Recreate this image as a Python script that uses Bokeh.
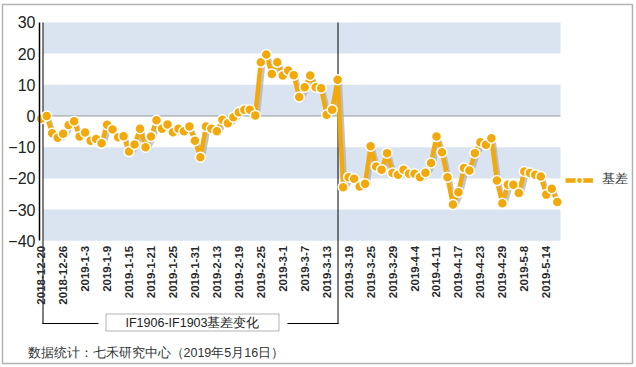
import math
from bokeh.plotting import figure
from bokeh.models import (ColumnDataSource, Range1d, FixedTicker, BoxAnnotation,
                          Label, Legend, LegendItem)
from bokeh.transform import dodge
from bokeh.embed import file_html
from bokeh.resources import INLINE

# ---------------- data ----------------
dates = ["2018-12-20", "2018-12-21", "2018-12-24", "2018-12-25", "2018-12-26", "2018-12-27", "2018-12-28",
         "2019-1-2", "2019-1-3", "2019-1-4", "2019-1-7", "2019-1-8", "2019-1-9", "2019-1-10", "2019-1-11",
         "2019-1-14", "2019-1-15", "2019-1-16", "2019-1-17", "2019-1-18", "2019-1-21", "2019-1-22",
         "2019-1-23", "2019-1-24", "2019-1-25", "2019-1-28", "2019-1-29", "2019-1-30", "2019-1-31",
         "2019-2-1", "2019-2-11", "2019-2-12", "2019-2-13", "2019-2-14", "2019-2-15", "2019-2-18",
         "2019-2-19", "2019-2-20", "2019-2-21", "2019-2-22", "2019-2-25", "2019-2-26", "2019-2-27",
         "2019-2-28",
         "2019-3-1", "2019-3-4", "2019-3-5", "2019-3-6", "2019-3-7", "2019-3-8", "2019-3-11", "2019-3-12",
         "2019-3-13", "2019-3-14", "2019-3-15", "2019-3-18", "2019-3-19", "2019-3-20", "2019-3-21",
         "2019-3-22", "2019-3-25", "2019-3-26", "2019-3-27", "2019-3-28", "2019-3-29",
         "2019-4-1", "2019-4-2", "2019-4-3", "2019-4-4", "2019-4-8", "2019-4-9", "2019-4-10", "2019-4-11",
         "2019-4-12", "2019-4-15", "2019-4-16", "2019-4-17", "2019-4-18", "2019-4-19", "2019-4-22",
         "2019-4-23", "2019-4-24", "2019-4-25", "2019-4-26", "2019-4-29", "2019-4-30",
         "2019-5-6", "2019-5-7", "2019-5-8", "2019-5-9", "2019-5-10", "2019-5-13", "2019-5-14",
         "2019-5-15", "2019-5-16"]

basis = [-0.9, 0.0, -5.5, -7.0, -5.7, -2.9, -1.7, -6.6, -5.3, -7.9,
         -7.4, -8.7, -2.8, -4.3, -6.8, -6.5, -11.4, -9.1, -4.1, -10.0,
         -6.6, -1.4, -4.1, -2.7, -5.2, -4.1, -4.9, -3.4, -7.9, -13.2,
         -3.4, -4.1, -4.9, -1.2, -2.3, -0.4, 1.2, 2.0, 2.0, 0.2,
         17.2, 19.7, 13.5, 17.2, 13.0, 14.6, 13.1, 6.1, 9.2, 13.0,
         9.2, 8.9, 0.4, 2.0, 11.6, -22.8, -19.6, -20.1, -22.6, -21.7,
         -9.7, -16.2, -17.2, -11.9, -18.3, -18.8, -17.2, -18.5, -18.5, -19.6,
         -18.2, -15.1, -6.6, -11.6, -19.6, -28.4, -24.4, -16.7, -17.5, -11.9,
         -8.4, -9.2, -7.1, -20.7, -28.0, -22.0, -22.0, -24.7, -17.8, -18.3,
         -18.8, -19.4, -25.2, -23.3, -27.6]

y_ticks = [-40, -30, -20, -10, 0, 10, 20, 30]
band_bottoms = [20, 0, -20, -40]
label_step = 4
series_name = "基差"
bracket_label = "IF1906-IF1903基差变化"
source_note = "数据统计：七禾研究中心（2019年5月16日）"

# ---------------- layout / style ----------------
W, H = 636, 367
PX_PER_DAY = 5.49      # horizontal pixels per trading day
X0_PX = 40.7           # pixel position of the first trading day
PX_PER_UNIT = 3.12     # vertical pixels per basis point
Y0_PX = 115.5          # pixel position of basis = 0
ORANGE = "#f2a90c"
BAND = "#d9e4f0"
FONT = "Liberation Sans"

x_lo = -X0_PX / PX_PER_DAY
x_hi = (W - X0_PX) / PX_PER_DAY
y_hi = Y0_PX / PX_PER_UNIT
y_lo = (Y0_PX - H) / PX_PER_UNIT
axis_x = (39 - X0_PX) / PX_PER_DAY
band_l = (43 - X0_PX) / PX_PER_DAY
band_r = (560 - X0_PX) / PX_PER_DAY

idx = list(range(len(dates)))
src = ColumnDataSource(dict(x=idx, y=basis, d=dates))
tick_idx = idx[::label_step]

p = figure(width=W, height=H, output_backend="svg", toolbar_location=None,
           x_range=Range1d(x_lo, x_hi), y_range=Range1d(y_lo, y_hi),
           min_border=0, min_border_left=0, min_border_right=0, min_border_top=0,
           min_border_bottom=0,
           outline_line_color=None, background_fill_color="white", border_fill_color="white")

p.xgrid.visible = False
p.ygrid.visible = False

for b in band_bottoms:
    p.add_layout(BoxAnnotation(bottom=b, top=b + 10, left=band_l, right=band_r,
                               fill_color=BAND, fill_alpha=1.0, line_color=None, level="underlay"))
p.add_layout(BoxAnnotation(bottom=0, top=0, left=axis_x, right=band_r, fill_alpha=0,
                           line_color="#5f5f5f", line_width=2, level="underlay"))


def cbox(l, r, t, b, **kw):
    return BoxAnnotation(left=l, right=r, top=t, bottom=b,
                         left_units="canvas", right_units="canvas",
                         top_units="canvas", bottom_units="canvas", **kw)


# bracket lines
for (l, r, t, b) in [(42, 43, 22, 323.5), (337, 338, 22, 323.5),
                     (42, 98, 322.5, 323.5), (287, 338, 322.5, 323.5)]:
    p.add_layout(cbox(l, r, t, b, fill_color="black", fill_alpha=1.0, line_color=None,
                      level="underlay"))

# shadow + line + points
p.line(x=dodge("x", 0.45), y=dodge("y", -0.8), source=src, line_color="#b0b0b0",
       line_width=4, line_alpha=0.75, line_join="round")
line_r = p.line("x", "y", source=src, line_color=ORANGE, line_width=4.5, line_join="round")
pts_r = p.scatter("x", "y", source=src, size=10, fill_color=ORANGE, line_color="white",
                  line_width=1.5)

# axes
p.yaxis.fixed_location = axis_x
p.yaxis.bounds = (y_ticks[0], y_ticks[-1])
p.yaxis.ticker = FixedTicker(ticks=y_ticks)
p.yaxis.major_label_text_font_size = "16px"
p.yaxis.major_label_text_font = FONT
p.yaxis.major_label_text_color = "#222222"
p.yaxis.axis_line_color = "black"
p.yaxis.axis_line_width = 1.5
p.yaxis.major_tick_line_color = None
p.yaxis.minor_tick_line_color = None
p.yaxis.major_tick_out = 0
p.yaxis.major_tick_in = 0
p.yaxis.major_label_standoff = 4

p.xaxis.fixed_location = y_ticks[0]
p.xaxis.ticker = FixedTicker(ticks=tick_idx)
p.xaxis.major_label_overrides = {i: dates[i] for i in tick_idx}
p.xaxis.major_label_orientation = math.pi / 2
p.xaxis.major_label_text_font_size = "11.5px"
p.xaxis.major_label_text_font = FONT
p.xaxis.major_label_text_font_style = "bold"
p.xaxis.major_label_text_color = "#2a2a2a"
p.xaxis.axis_line_color = None
p.xaxis.major_tick_line_color = None
p.xaxis.minor_tick_line_color = None
p.xaxis.major_tick_out = 0
p.xaxis.major_tick_in = 0
p.xaxis.major_label_standoff = 5

# label box
p.add_layout(cbox(105.5, 278.5, 313.5, 330.5, fill_color="white", fill_alpha=1.0,
                  line_color="black", line_width=1))
p.add_layout(Label(x=192, y=322, x_units="canvas", y_units="canvas", text=bracket_label,
                   text_align="center", text_baseline="middle", text_font_size="12.5px",
                   text_font=FONT, text_color="#222222"))

# source note
p.add_layout(Label(x=27, y=352, x_units="canvas", y_units="canvas", text=source_note,
                   text_align="left", text_baseline="middle", text_font_size="12.5px",
                   text_font=FONT, text_color="#333333"))

# outer border
p.add_layout(cbox(2, 632, 4, 363, fill_alpha=0, line_color="black", line_width=1.5))

legend = Legend(items=[LegendItem(label=series_name, renderers=[line_r, pts_r])],
                location=(565, 179), glyph_width=28, glyph_height=16, label_height=16,
                label_standoff=9, padding=0, margin=0, spacing=0,
                border_line_color=None, background_fill_alpha=0,
                label_text_font_size="12.5px", label_text_font=FONT, label_text_color="#333333")
p.add_layout(legend)

open("out.html", "w").write(file_html(p, INLINE))
